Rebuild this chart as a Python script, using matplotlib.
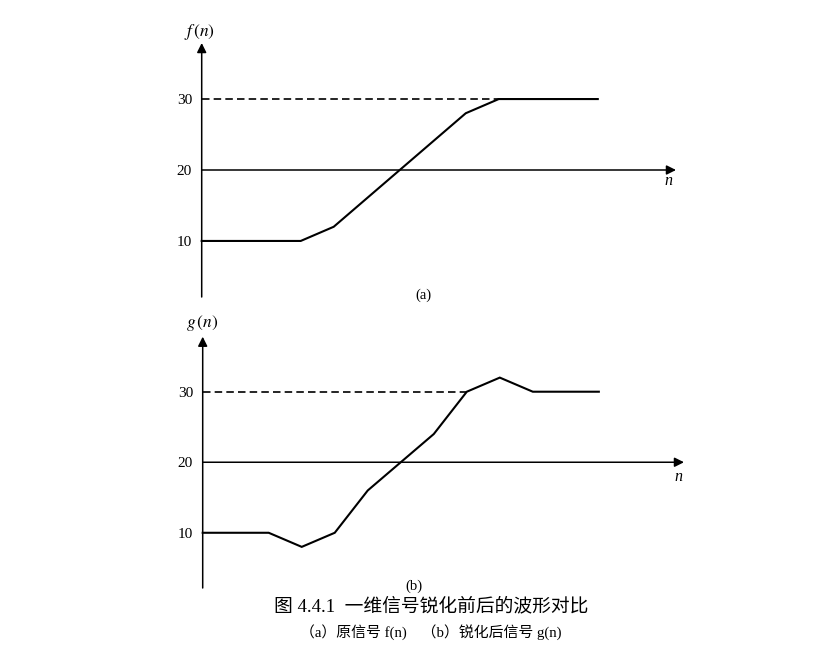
import matplotlib
matplotlib.use("Agg")
import matplotlib.pyplot as plt

plt.rcParams['mathtext.fontset'] = 'stix'
plt.rcParams['font.family'] = ['Liberation Serif', 'Noto Sans CJK SC']

# data
n = list(range(13))
f_vals = [10, 10, 10, 10, 12, 16, 20, 24, 28, 30, 30, 30, 30]
g_vals = [10, 10, 10, 8, 10, 16, 20, 24, 30, 32, 30, 30, 30]
y_ticks = [10, 20, 30]
n_axis_level = 20
ref_level = 30
dash_end_f = 9
dash_end_g = 8

W, H = 836, 656
fig = plt.figure(figsize=(W / 100, H / 100), dpi=100)
fig.patch.set_facecolor('white')


def px(x, y):
    return x / W, 1 - y / H


def make_panel(rect, xmax, ylim, vals, dash_end, ylab, sub, sub_xy, n_xy, ylab_xy):
    ax = fig.add_axes(rect)
    ax.set_xlim(0, xmax)
    ax.set_ylim(*ylim)
    for s in ax.spines.values():
        s.set_visible(False)
    ax.set_xticks([])
    ax.set_yticks(y_ticks)
    ax.set_yticklabels([str(t) for t in y_ticks], fontsize=11)
    ax.tick_params(axis='y', length=0, pad=7)
    ax.patch.set_alpha(0)

    arrow = dict(arrowstyle='-|>', mutation_scale=14, lw=1.1, color='k',
                 shrinkA=0, shrinkB=0)
    # vertical axis
    ax.annotate('', xy=(0, ylim[1]), xytext=(0, ylim[0]), arrowprops=arrow,
                annotation_clip=False)
    # n axis
    ax.annotate('', xy=(xmax, n_axis_level), xytext=(0, n_axis_level),
                arrowprops=arrow, annotation_clip=False)

    # reference dashed line
    ax.plot([0, dash_end], [ref_level, ref_level], color='k', lw=1.2,
            ls=(0, (4.5, 2.5)), clip_on=False)
    ax.plot(n, vals, color='k', lw=1.5, solid_joinstyle='miter', clip_on=False)

    fig.text(*px(*ylab_xy), ylab, fontsize=12.5, ha='center', va='center')
    fig.text(*px(*n_xy), 'n', fontsize=11.5, style='italic', ha='center', va='center')
    fig.text(*px(*sub_xy), sub, fontsize=10.5, ha='center', va='center')
    return ax


make_panel([201.7 / W, 1 - 297 / H, (676 - 201.7) / W, (297 - 43) / H],
           14.37, (2.1, 37.9), f_vals, dash_end_f, r'$f\,(n)$', '(a)',
           (423, 295), (668, 181), (200, 32))
make_panel([202.7 / W, 1 - 588 / H, (684 - 202.7) / W, (588 - 336.7) / H],
           14.58, (2.17, 37.8), g_vals, dash_end_g, r'$g\,(n)$', '(b)',
           (414, 586), (678, 477), (202, 323))

fig.text(*px(431, 606), '图 4.4.1  一维信号锐化前后的波形对比', fontsize=13.5,
         ha='center', va='center')
fig.text(*px(431, 632), '（a）原信号 f(n)　（b）锐化后信号 g(n)', fontsize=10.7,
         ha='center', va='center')

fig.savefig('out.png', dpi=100)
